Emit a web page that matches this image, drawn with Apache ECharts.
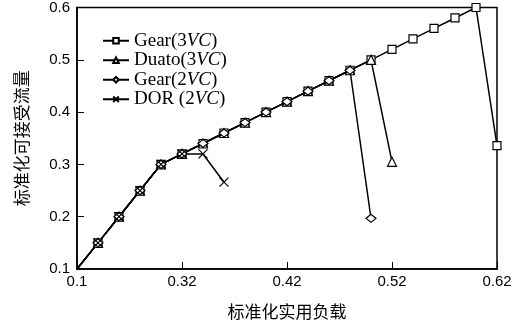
<!DOCTYPE html>
<html>
<head>
<meta charset="utf-8">
<script src="https://cdn.jsdelivr.net/npm/echarts@6/dist/echarts.min.js"></script>
<style>
  html, body { margin: 0; padding: 0; background: #fff; }
  #chart { width: 517px; height: 325px; }
</style>
</head>
<body>
<div id="chart"></div>
<script>
// normalized offered load (x axis is not linear: each step is one category)
const loads = ['0.1', '0.15', '0.2', '0.25', '0.3', '0.32', '0.34', '0.36', '0.38', '0.40', '0.42',
  '0.44', '0.46', '0.48', '0.50', '0.52', '0.54', '0.56', '0.58', '0.60', '0.62']
const xTickLabels = ['0.1', '0.32', '0.42', '0.52', '0.62']

// normalized accepted throughput
const gear3vc = [0.1, 0.15, 0.2, 0.25, 0.3, 0.32, 0.34, 0.36, 0.38, 0.40, 0.42,
  0.44, 0.46, 0.48, 0.50, 0.52, 0.54, 0.56, 0.58, 0.60, 0.336]
const duato3vc = [0.1, 0.15, 0.2, 0.25, 0.3, 0.32, 0.34, 0.36, 0.38, 0.40, 0.42,
  0.44, 0.46, 0.48, 0.50, 0.305]
const gear2vc = [0.1, 0.15, 0.2, 0.25, 0.3, 0.32, 0.34, 0.36, 0.38, 0.40, 0.42,
  0.44, 0.46, 0.48, 0.197]
const dor2vc = [0.1, 0.15, 0.2, 0.25, 0.3, 0.32, 0.32, 0.266]

const serif = '"Liberation Serif", "Times New Roman", serif'
const sans = '"Liberation Sans", Arial, sans-serif'
const cjk = '"Noto Sans CJK SC", sans-serif'

const chart = echarts.init(document.getElementById('chart'), null, { renderer: 'canvas' })

// first point sits on the axis corner, no marker there
const toData = (arr) => arr.map((v, i) => (i === 0 ? { value: v, symbol: 'none' } : v))

const makeSeries = (name, data, symbol, symbolSize) => ({
  name,
  type: 'line',
  data: toData(data),
  symbol,
  symbolSize,
  showAllSymbol: true,
  lineStyle: { color: '#000', width: 1.5 },
  itemStyle: { color: '#fff', borderColor: '#000', borderWidth: 1.2 },
  emphasis: { disabled: true },
  animation: false,
})

const option = {
  backgroundColor: '#fff',
  grid: {
    left: 77, right: 20, top: 7, bottom: 53,
    show: true, borderColor: '#000', borderWidth: 1.5,
  },
  legend: {
    orient: 'vertical',
    left: 97,
    top: 26,
    itemWidth: 26,
    itemHeight: 7,
    itemGap: 0,
    textStyle: {
      fontFamily: serif,
      fontSize: 19,
      lineHeight: 19.5,
      color: '#000',
      rich: {
        i: { fontFamily: serif, fontSize: 19, fontStyle: 'italic', color: '#000' },
      },
    },
    formatter: (name) => name.replace('VC', '{i|VC}'),
    data: ['Gear(3VC)', 'Duato(3VC)', 'Gear(2VC)', 'DOR (2VC)'],
  },
  xAxis: {
    type: 'category',
    data: loads,
    boundaryGap: false,
    name: '标准化实用负载',
    nameLocation: 'middle',
    nameGap: 34,
    nameTextStyle: { fontFamily: cjk, fontSize: 17, color: '#000' },
    axisLine: { lineStyle: { color: '#000', width: 1.5 } },
    axisTick: {
      inside: true, length: 7, lineStyle: { color: '#000', width: 1 },
      interval: (i, v) => xTickLabels.includes(v),
    },
    axisLabel: {
      fontFamily: sans, fontSize: 15, color: '#000', margin: 5,
      interval: (i, v) => xTickLabels.includes(v),
    },
    splitLine: { show: false },
  },
  yAxis: {
    type: 'value',
    min: 0.1,
    max: 0.6,
    interval: 0.1,
    name: '标准化可接受流量',
    nameLocation: 'middle',
    nameGap: 47,
    nameTextStyle: { fontFamily: cjk, fontSize: 17, color: '#000' },
    axisLine: { show: true, lineStyle: { color: '#000', width: 1.5 } },
    axisTick: { show: true, inside: true, length: 7, lineStyle: { color: '#000', width: 1 } },
    axisLabel: {
      fontFamily: sans, fontSize: 15, color: '#000', margin: 7,
      formatter: (v) => v.toFixed(1),
    },
    splitLine: { show: false },
  },
  series: [
    makeSeries('Gear(3VC)', gear3vc, 'rect', 8),
    makeSeries('Duato(3VC)', duato3vc, 'triangle', 9),
    makeSeries('Gear(2VC)', gear2vc, 'diamond', [10, 8]),
    makeSeries('DOR (2VC)', dor2vc, 'path://M0,0L10,10M10,0L0,10', 9),
  ],
}

chart.setOption(option)
</script>
</body>
</html>
